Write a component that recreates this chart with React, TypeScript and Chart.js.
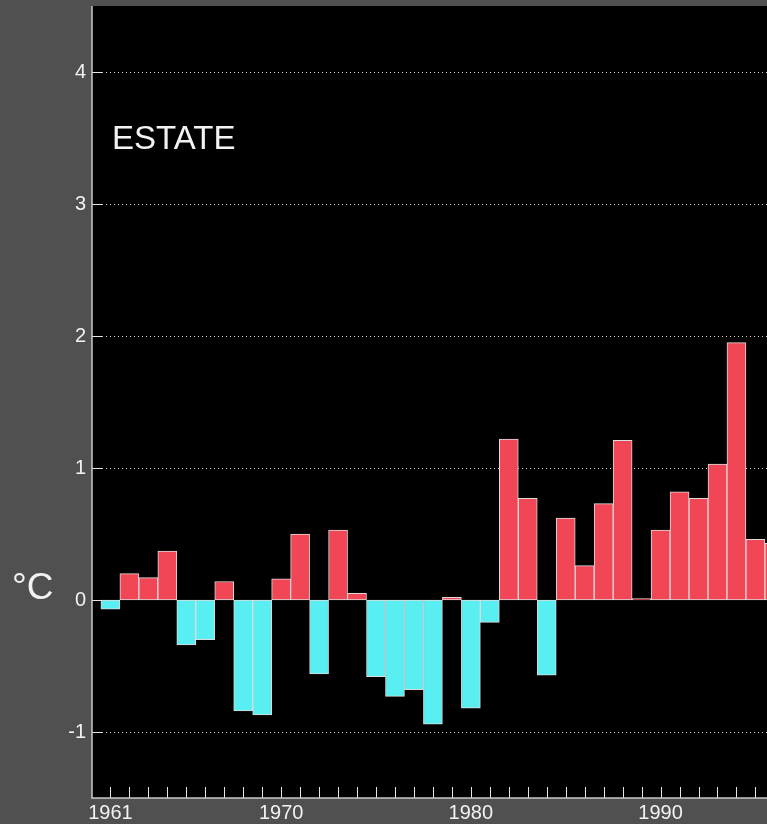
import React, { useEffect, useRef } from "react";
import { Chart, registerables } from "chart.js";

Chart.register(...registerables);

const years = [
  1961, 1962, 1963, 1964, 1965, 1966, 1967, 1968, 1969, 1970,
  1971, 1972, 1973, 1974, 1975, 1976, 1977, 1978, 1979, 1980,
  1981, 1982, 1983, 1984, 1985, 1986, 1987, 1988, 1989, 1990,
  1991, 1992, 1993, 1994, 1995, 1996,
];
const anomalies = [
  -0.07, 0.2, 0.17, 0.37, -0.34, -0.3, 0.14, -0.84, -0.87, 0.16,
  0.5, -0.56, 0.53, 0.05, -0.58, -0.73, -0.68, -0.94, 0.02, -0.82,
  -0.17, 1.22, 0.77, -0.57, 0.62, 0.26, 0.73, 1.21, 0.01, 0.53,
  0.82, 0.77, 1.03, 1.95, 0.46, 0.43,
];
const xLabelYears = [1961, 1970, 1980, 1990];
const yTickValues = [-1, 0, 1, 2, 3, 4];
const seasonLabel = "ESTATE";
const unitLabel = "°C";

const W = 767;
const H = 824;
const FONT = "'Liberation Sans', Arial, sans-serif";

const decorPlugin = {
  id: "decor",
  beforeDraw(chart: any) {
    const { ctx, chartArea } = chart;
    ctx.save();
    ctx.fillStyle = "#505050";
    ctx.fillRect(0, 0, chart.width, chart.height);
    ctx.fillStyle = "#000000";
    ctx.fillRect(chartArea.left, chartArea.top, chartArea.right - chartArea.left, chartArea.bottom - chartArea.top);
    const ys = chart.scales.y;
    ctx.strokeStyle = "#d0d0d0";
    ctx.lineWidth = 1;
    ctx.setLineDash([1, 3]);
    yTickValues.forEach((v) => {
      if (v === 0) return;
      const y = Math.round(ys.getPixelForValue(v)) + 0.5;
      ctx.beginPath();
      ctx.moveTo(chartArea.left + 10, y);
      ctx.lineTo(chartArea.right, y);
      ctx.stroke();
    });
    ctx.restore();
  },
  afterDatasetsDraw(chart: any) {
    const { ctx, chartArea } = chart;
    const xs = chart.scales.x;
    const ys = chart.scales.y;
    ctx.save();
    ctx.strokeStyle = "#e6e6e6";
    ctx.lineWidth = 1;
    ctx.setLineDash([]);
    yTickValues.forEach((v) => {
      const y = Math.round(ys.getPixelForValue(v)) + 0.5;
      ctx.beginPath();
      ctx.moveTo(chartArea.left, y);
      ctx.lineTo(chartArea.left + 10, y);
      ctx.stroke();
    });
    years.forEach((yr) => {
      const x = Math.round(xs.getPixelForValue(yr)) + 0.5;
      if (x < chartArea.left || x > chartArea.right) return;
      ctx.beginPath();
      ctx.moveTo(x, chartArea.bottom);
      ctx.lineTo(x, chartArea.bottom - 11);
      ctx.stroke();
    });
    ctx.strokeStyle = "#c8c8c8";
    ctx.lineWidth = 1.5;
    ctx.beginPath();
    ctx.moveTo(chartArea.left, chartArea.top);
    ctx.lineTo(chartArea.left, chartArea.bottom);
    ctx.lineTo(chartArea.right, chartArea.bottom);
    ctx.stroke();
    ctx.fillStyle = "#f2f2f2";
    ctx.textAlign = "left";
    ctx.textBaseline = "alphabetic";
    ctx.font = `33px ${FONT}`;
    ctx.fillText(seasonLabel, chartArea.left + 20, chartArea.top + 143);
    ctx.font = `37px ${FONT}`;
    ctx.textBaseline = "middle";
    ctx.fillText(unitLabel, 12, ys.getPixelForValue(0) - 11);
    ctx.restore();
  },
};

export default function App() {
  const ref = useRef<HTMLCanvasElement | null>(null);

  useEffect(() => {
    document.body.style.margin = "0";
    document.body.style.overflow = "hidden";
    const canvas = ref.current;
    if (!canvas) return;
    const chart = new Chart(canvas, {
      type: "bar",
      data: {
        datasets: [
          {
            data: years.map((yr, i) => ({ x: yr, y: anomalies[i] })),
            backgroundColor: anomalies.map((v) => (v >= 0 ? "#f04656" : "#58eef2")),
            borderColor: "#dcdcdc",
            borderWidth: 1,
            borderSkipped: false,
            barPercentage: 1,
            categoryPercentage: 1,
          },
        ],
      },
      options: {
        animation: false,
        responsive: false,
        devicePixelRatio: 1,
        layout: { padding: { top: 6, left: 0, right: 0, bottom: 0 } },
        plugins: {
          legend: { display: false },
          tooltip: { enabled: false },
        },
        scales: {
          x: {
            type: "linear",
            offset: false,
            min: 1960.03,
            max: 1995.61,
            grid: { display: false, drawTicks: false },
            border: { display: false },
            afterFit: (s: any) => {
              s.height = 26;
              s.paddingLeft = 0;
              s.paddingRight = 0;
            },
            afterBuildTicks: (s: any) => {
              s.ticks = xLabelYears.map((v) => ({ value: v }));
            },
            ticks: {
              color: "#f2f2f2",
              font: { family: FONT, size: 20 },
              padding: 3,
              maxRotation: 0,
              autoSkip: false,
              callback: (v: any) => String(v),
            },
          },
          y: {
            type: "linear",
            min: -1.5,
            max: 4.5,
            grid: { display: false, drawTicks: false },
            border: { display: false },
            afterFit: (s: any) => {
              s.width = 92;
              s.paddingTop = 0;
              s.paddingBottom = 0;
            },
            afterBuildTicks: (s: any) => {
              s.ticks = yTickValues.map((v) => ({ value: v }));
            },
            ticks: {
              color: "#f2f2f2",
              font: { family: FONT, size: 20 },
              padding: 6,
              callback: (v: any) => String(v),
            },
          },
        },
      },
      plugins: [decorPlugin],
    });
    return () => chart.destroy();
  }, []);

  return (
    <div style={{ position: "fixed", left: 0, top: 0, width: W, height: H }}>
      <canvas ref={ref} width={W} height={H} style={{ display: "block", width: W, height: H }} />
    </div>
  );
}
